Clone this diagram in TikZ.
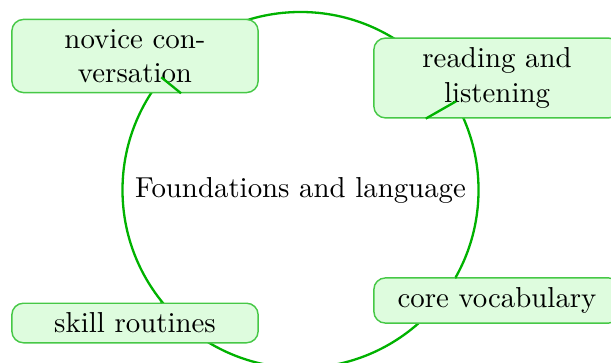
\documentclass[tikz,border=0pt]{standalone}
\definecolor{linegreen}{RGB}{0,178,0}
\definecolor{boxline}{RGB}{70,200,70}
\definecolor{boxfill}{RGB}{222,252,222}
\tikzset{
  hub/.style={circle, draw=linegreen, line width=0.8pt, minimum size=123.4pt, inner sep=0pt},
  leaf/.style={draw=boxline, fill=boxfill, line width=0.5pt, rounded corners=4pt, minimum width=3cm, align=center, inner sep=3.33pt},
  link/.style={draw=linegreen, line width=0.8pt}
}
\begin{document}
\begin{tikzpicture}[x=0.3466pt,y=-0.3466pt]
\clip (0,0) rectangle (611,362);
\node[hub] (c) at (300.5,190) {Foundations and language};
\node[leaf] (n1) at (135,56) {novice con-\\versation};
\node[leaf] (n2) at (497,78) {reading and\\listening};
\node[leaf] (n3) at (497,300.5) {core vocabulary};
\node[leaf] (n4) at (135,323) {skill routines};
\draw[link] (c) -- (n1);
\draw[link] (c) -- (n2);
\draw[link] (c) -- (n3);
\draw[link] (c) -- (n4);
\end{tikzpicture}
\end{document}
